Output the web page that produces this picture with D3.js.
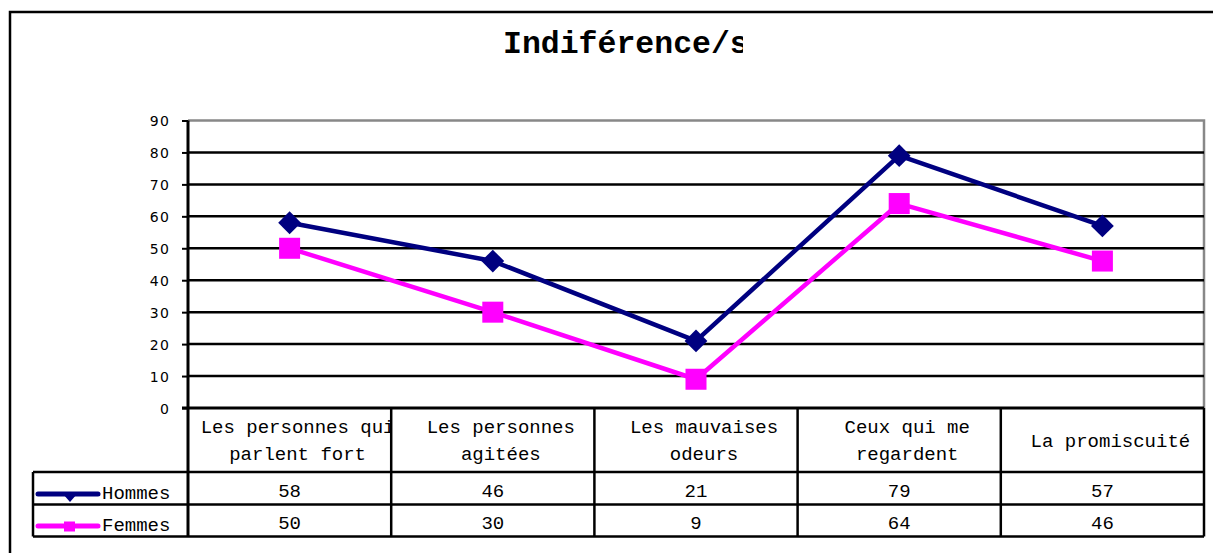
<!DOCTYPE html>
<html>
<head>
<meta charset="utf-8">
<script src="https://cdn.jsdelivr.net/npm/d3@7"></script>
<style>
  html, body { margin: 0; padding: 0; background: #fff; }
  svg { display: block; }
</style>
</head>
<body>
<svg id="chart" width="1213" height="553"></svg>
<script>
// Chart data
const chartTitle = "Indiférence/s";
const categories = ["Les personnes qui parlent fort", "Les personnes agitées", "Les mauvaises odeurs", "Ceux qui me regardent", "La promiscuité"];
const categoryLines = [["Les personnes qui", "parlent fort"], ["Les personnes", "agitées"], ["Les mauvaises", "odeurs"], ["Ceux qui me", "regardent"], ["La promiscuité"]];
const seriesNames = ["Hommes", "Femmes"];
const hommes = [58, 46, 21, 79, 57];
const femmes = [50, 30, 9, 64, 46];
const yTicks = [0, 10, 20, 30, 40, 50, 60, 70, 80, 90];

const NAVY = "#000080", MAGENTA = "#FF00FF";
const MONO = "'Liberation Mono', 'Courier New', monospace";
const SANS = "'DejaVu Sans', Verdana, sans-serif";

const svg = d3.select("#chart");

// Layout
const plot = { left: 188, right: 1204, top: 120.5, bottom: 408 };
const table = { legendLeft: 33, headerBottom: 472, row1Bottom: 504.5, row2Bottom: 536.5 };

const x = d3.scaleBand().domain(categories).range([plot.left, plot.right]).padding(0);
const y = d3.scaleLinear().domain([0, 90]).range([plot.bottom, plot.top]);
const cx = c => x(c) + x.bandwidth() / 2;

const defs = svg.append("defs");

// Outer chart frame (extends past the right and bottom edges)
svg.append("path")
  .attr("d", "M10,560 L10,12 L1220,12")
  .attr("fill", "none").attr("stroke", "#000").attr("stroke-width", 2.5);

// Title, clipped at the right
defs.append("clipPath").attr("id", "titleClip")
  .append("rect").attr("x", 400).attr("y", 0).attr("width", 343).attr("height", 100);
svg.append("text")
  .attr("clip-path", "url(#titleClip)")
  .attr("x", 503).attr("y", 53)
  .attr("font-family", MONO).attr("font-weight", "bold").attr("font-size", 31.5)
  .attr("fill", "#000")
  .text(chartTitle);

// Plot area border (top and right, gray)
svg.append("path")
  .attr("d", `M${plot.left},${plot.top} L${plot.right},${plot.top} L${plot.right},${plot.bottom}`)
  .attr("fill", "none").attr("stroke", "#888").attr("stroke-width", 2.5);

// Horizontal gridlines
svg.append("g").selectAll("line")
  .data(yTicks.filter(t => t > 0 && t < 90))
  .join("line")
  .attr("x1", plot.left).attr("x2", plot.right)
  .attr("y1", d => y(d)).attr("y2", d => y(d))
  .attr("stroke", "#000").attr("stroke-width", 2.5);

// Y axis
const yAxis = d3.axisLeft(y).tickValues(yTicks).tickSize(6).tickPadding(12).tickFormat(d3.format("d"));
const yg = svg.append("g").attr("transform", `translate(${plot.left},0)`).call(yAxis);
yg.select(".domain").remove();
yg.selectAll(".tick line").attr("stroke", "#000").attr("stroke-width", 2);
yg.selectAll(".tick text")
  .attr("font-family", SANS).attr("font-size", 14).attr("letter-spacing", 1.2)
  .attr("fill", "#000").attr("dy", "0.36em");
svg.append("line")
  .attr("x1", plot.left).attr("x2", plot.left)
  .attr("y1", plot.top).attr("y2", table.row2Bottom)
  .attr("stroke", "#000").attr("stroke-width", 3);
svg.append("line")
  .attr("x1", plot.left - 6).attr("x2", plot.right)
  .attr("y1", plot.bottom).attr("y2", plot.bottom)
  .attr("stroke", "#000").attr("stroke-width", 3);

// Data table grid
const tg = svg.append("g").attr("stroke", "#000").attr("stroke-width", 2.5).attr("fill", "none");
categories.forEach(c => {
  tg.append("line").attr("x1", x(c) + x.bandwidth()).attr("x2", x(c) + x.bandwidth())
    .attr("y1", plot.bottom).attr("y2", table.row2Bottom);
});
[table.headerBottom, table.row1Bottom, table.row2Bottom].forEach(yy => {
  tg.append("line").attr("x1", table.legendLeft).attr("x2", plot.right).attr("y1", yy).attr("y2", yy);
});
tg.append("line").attr("x1", table.legendLeft).attr("x2", table.legendLeft)
  .attr("y1", table.headerBottom).attr("y2", table.row2Bottom);

// Header cells: category names, wrapped and clipped to their cell
categories.forEach((c, i) => {
  const id = "hclip" + i;
  defs.append("clipPath").attr("id", id)
    .append("rect").attr("x", x(c) + 1).attr("y", plot.bottom).attr("width", x.bandwidth() - 2).attr("height", table.headerBottom - plot.bottom);
  const lines = categoryLines[i];
  const t = svg.append("text")
    .attr("clip-path", `url(#${id})`)
    .attr("font-family", MONO).attr("font-size", 19).attr("fill", "#000")
    .attr("text-anchor", "middle");
  const startY = lines.length === 1 ? 446.5 : 432.5;
  lines.forEach((ln, j) => {
    t.append("tspan").attr("x", cx(c) + 8).attr("y", startY + j * 27.5).text(ln);
  });
});

// Value rows with legend keys
const rows = [
  { name: seriesNames[0], values: hommes, color: NAVY, baseline: 497, sampleY: 494 },
  { name: seriesNames[1], values: femmes, color: MAGENTA, baseline: 528.5, sampleY: 526 }
];
rows.forEach(r => {
  svg.append("g").selectAll("text")
    .data(r.values)
    .join("text")
    .attr("x", (d, i) => cx(categories[i]))
    .attr("y", r.baseline)
    .attr("text-anchor", "middle")
    .attr("font-family", MONO).attr("font-size", 19).attr("fill", "#000")
    .text(d => d);
  svg.append("line")
    .attr("x1", 38).attr("x2", 98).attr("y1", r.sampleY).attr("y2", r.sampleY)
    .attr("stroke", r.color).attr("stroke-width", 5).attr("stroke-linecap", "round");
  svg.append("text")
    .attr("x", 102).attr("y", r.baseline + 2)
    .attr("font-family", MONO).attr("font-size", 19).attr("fill", "#000")
    .text(r.name);
});
svg.append("path").attr("d", "M63,494 L77,494 L70,502 Z").attr("fill", NAVY);
svg.append("rect").attr("x", 64).attr("y", 521.5).attr("width", 11).attr("height", 10).attr("fill", MAGENTA);

// Series lines and markers
const line = d3.line().x((d, i) => cx(categories[i])).y(d => y(d));

svg.append("path").datum(femmes)
  .attr("d", line).attr("fill", "none")
  .attr("stroke", MAGENTA).attr("stroke-width", 4.5).attr("stroke-linejoin", "round");
svg.append("g").selectAll("rect")
  .data(femmes).join("rect")
  .attr("x", (d, i) => cx(categories[i]) - 10.5)
  .attr("y", d => y(d) - 10.5)
  .attr("width", 21).attr("height", 21)
  .attr("fill", MAGENTA);

svg.append("path").datum(hommes)
  .attr("d", line).attr("fill", "none")
  .attr("stroke", NAVY).attr("stroke-width", 4.5).attr("stroke-linejoin", "round");
const diamond = d3.symbol().type(d3.symbolSquare).size(260);
svg.append("g").selectAll("path")
  .data(hommes).join("path")
  .attr("d", diamond)
  .attr("transform", (d, i) => `translate(${cx(categories[i])},${y(d)}) rotate(45)`)
  .attr("fill", NAVY);
</script>
</body>
</html>
